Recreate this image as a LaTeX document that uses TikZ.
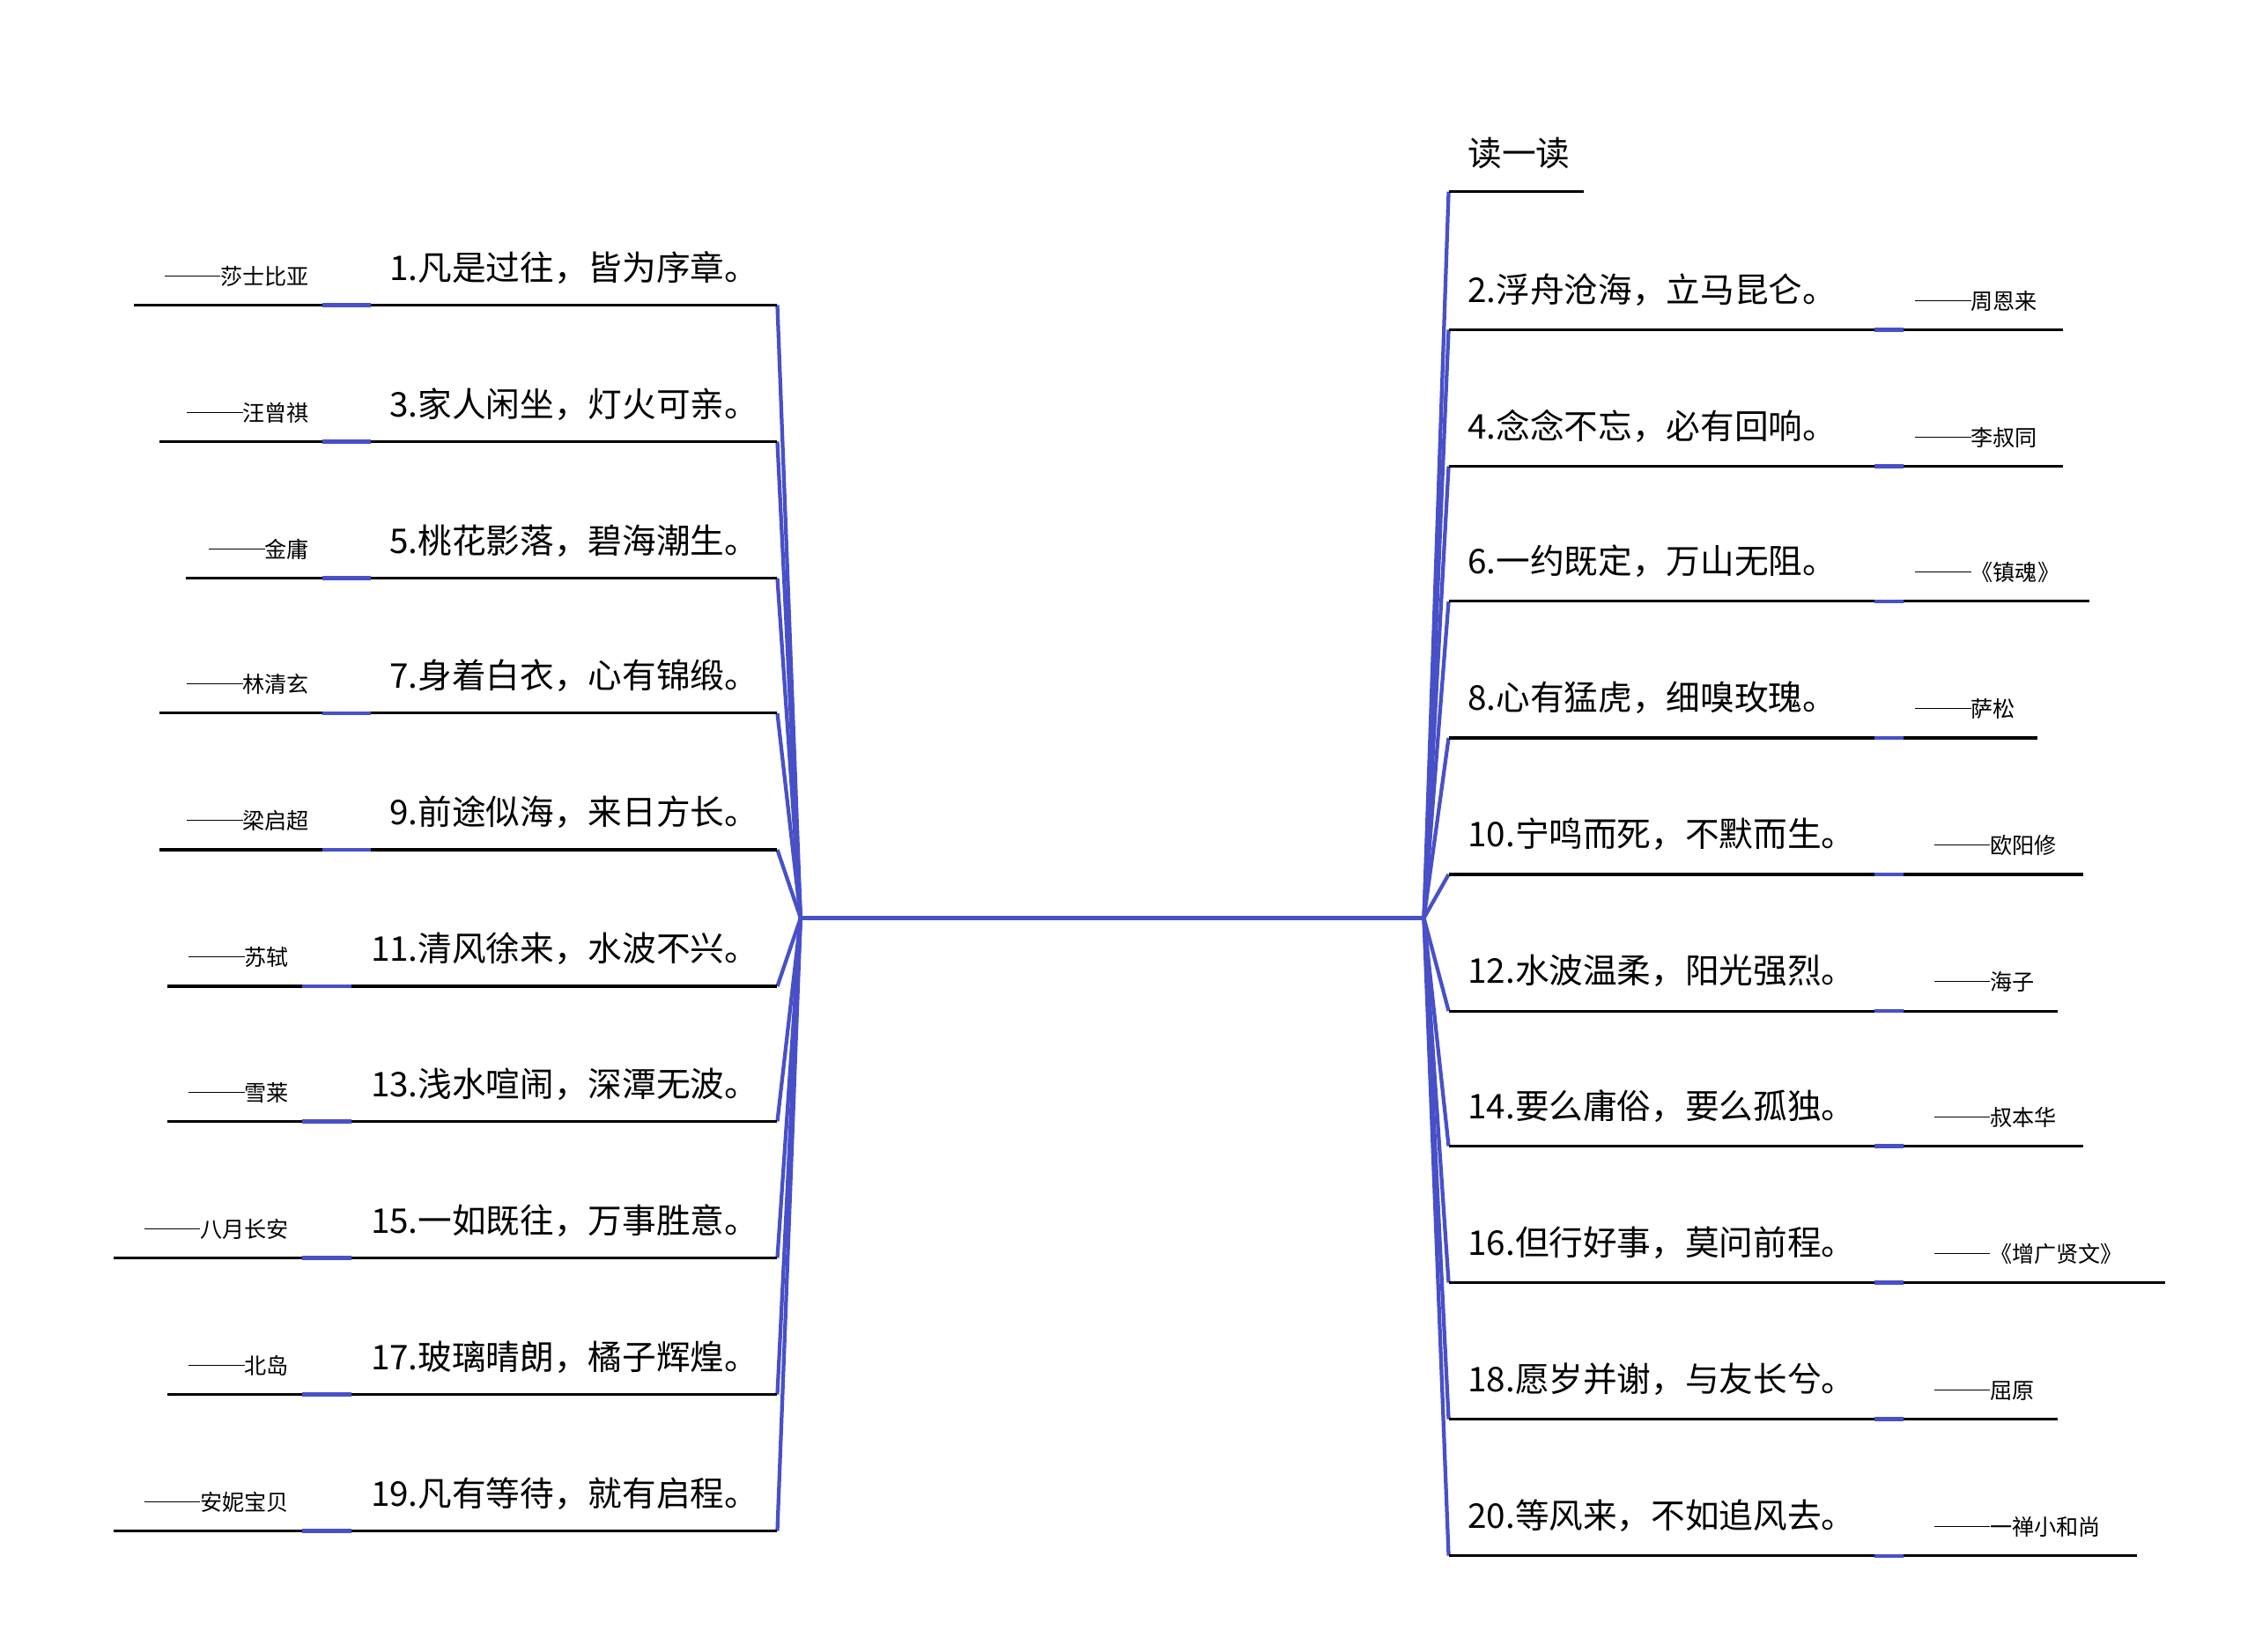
\documentclass[tikz,border=0pt]{standalone}
\usepackage{fontspec}
\setmainfont{Noto Sans CJK SC}
\newcommand{\dsh}{\rule[0.38em]{1.15cm}{0.6pt}}
\begin{document}
\begin{tikzpicture}[x=0.03cm,y=-0.03cm,
  ul/.style={draw=black,line width=1.6pt},
  mt/.style={font=\fontsize{20}{22}\selectfont,inner sep=0pt},
  au/.style={font=\fontsize{13}{15}\selectfont,inner sep=0pt}]
\definecolor{bc}{RGB}{72,80,200}
\tikzset{bl/.style={draw=bc,line width=2.2pt}}
\useasboundingbox (0,0) rectangle (1552,1137);
\coordinate (L) at (551,632);
\coordinate (R) at (980,632);
\draw[bl] (L) -- (R);
% left side
\foreach \n/\y/\ls/\bs/\be/\tx/\ax/\txt/\au in {
 1/210/92/222/255/268/213/{1.凡是过往，皆为序章。}/{莎士比亚},
 3/304/110/222/255/268/213/{3.家人闲坐，灯火可亲。}/{汪曾祺},
 5/398/128/222/255/268/213/{5.桃花影落，碧海潮生。}/{金庸},
 7/491/110/222/255/268/213/{7.身着白衣，心有锦缎。}/{林清玄},
 9/585/110/222/255/268/213/{9.前途似海，来日方长。}/{梁启超},
 11/679/115/208/242/255/199/{11.清风徐来，水波不兴。}/{苏轼},
 13/772/115/208/242/255/199/{13.浅水喧闹，深潭无波。}/{雪莱},
 15/866/78/208/242/255/199/{15.一如既往，万事胜意。}/{八月长安},
 17/960/115/208/242/255/199/{17.玻璃晴朗，橘子辉煌。}/{北岛},
 19/1054/78/208/242/255/199/{19.凡有等待，就有启程。}/{安妮宝贝}}{
  \coordinate (l\n) at (535,\y);
  \draw[bl] (L) -- (l\n);
  \draw[ul] (\ls,\y) -- (\bs,\y);
  \draw[bl] (\bs,\y) -- (\be,\y);
  \draw[ul] (\be,\y) -- (l\n);
  \node[mt,anchor=base west] (lt\n) at (\tx,\y-17) {\txt};
  \node[au,anchor=base east] (la\n) at (\ax,\y-14) {\dsh\au};
}
% right side
\coordinate (r0) at (997,132);
\draw[bl] (R) -- (r0);
\draw[ul] (r0) -- (1090,132);
\node[mt,anchor=base west] (rt0) at (1010,114) {读一读};
\foreach \n/\y/\ee/\ax/\txt/\au in {
 2/227/1420/1318/{2.浮舟沧海，立马昆仑。}/{周恩来},
 4/321/1420/1318/{4.念念不忘，必有回响。}/{李叔同},
 6/414/1438/1318/{6.一约既定，万山无阻。}/{《镇魂》},
 8/508/1402/1318/{8.心有猛虎，细嗅玫瑰。}/{萨松},
 10/602/1434/1331/{10.宁鸣而死，不默而生。}/{欧阳修},
 12/696/1416/1331/{12.水波温柔，阳光强烈。}/{海子},
 14/789/1434/1331/{14.要么庸俗，要么孤独。}/{叔本华},
 16/883/1490/1331/{16.但行好事，莫问前程。}/{《增广贤文》},
 18/977/1416/1331/{18.愿岁并谢，与友长兮。}/{屈原},
 20/1071/1471/1331/{20.等风来，不如追风去。}/{一禅小和尚}}{
  \coordinate (r\n) at (997,\y);
  \draw[bl] (R) -- (r\n);
  \draw[ul] (r\n) -- (1290,\y);
  \draw[bl] (1290,\y) -- (1310,\y);
  \draw[ul] (1310,\y) -- (\ee,\y);
  \node[mt,anchor=base west] (rt\n) at (1010,\y-19) {\txt};
  \node[au,anchor=base west] (ra\n) at (\ax,\y-14) {\dsh\au};
}
\end{tikzpicture}
\end{document}
